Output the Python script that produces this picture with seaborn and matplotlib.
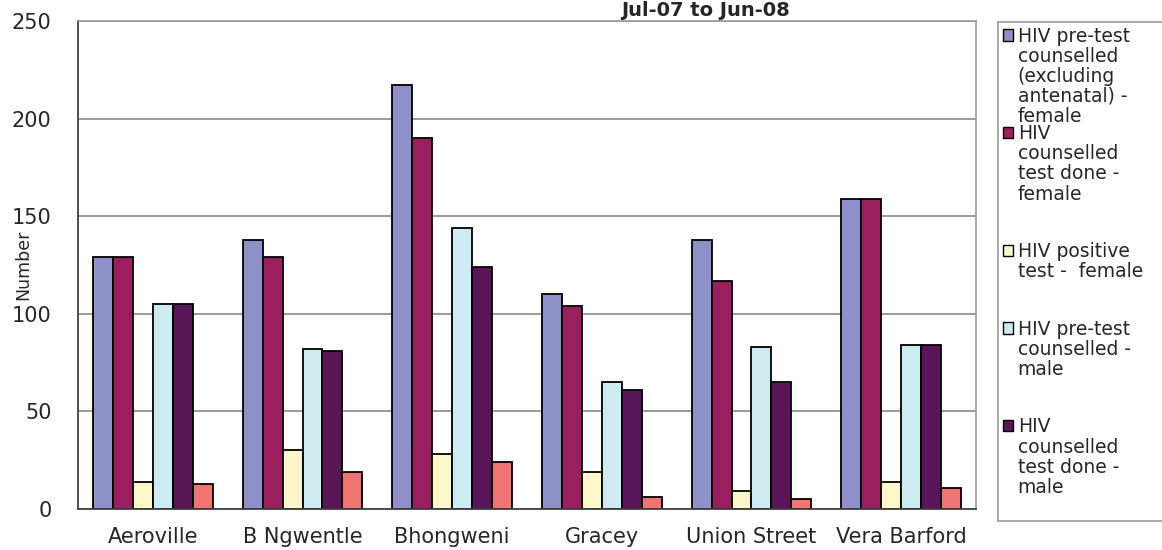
import pandas as pd
import seaborn as sns
import matplotlib
matplotlib.use("Agg")
from matplotlib import pyplot as plt
from matplotlib.patches import Patch, Rectangle
from matplotlib.legend_handler import HandlerPatch

# 数据
clinics = ["Aeroville", "B Ngwentle", "Bhongweni", "Gracey", "Union Street", "Vera Barford"]
series = [
    "HIV pre-test counselled (excluding antenatal) - female",
    "HIV counselled test done - female",
    "HIV positive test - female",
    "HIV pre-test counselled - male",
    "HIV counselled test done - male",
    "HIV positive test - male",
]
pretest_female = [129, 138, 217, 110, 138, 159]
tested_female = [129, 129, 190, 104, 117, 159]
positive_female = [14, 30, 28, 19, 9, 14]
pretest_male = [105, 82, 144, 65, 83, 84]
tested_male = [105, 81, 124, 61, 65, 84]
positive_male = [13, 19, 24, 6, 5, 11]

# 图例文字(原图只显示前五项)
legend_labels = [
    "HIV pre-test\ncounselled\n(excluding\nantenatal) -\nfemale",
    "HIV\ncounselled\ntest done -\nfemale\n\n",
    "HIV positive\ntest -  female\n\n",
    "HIV pre-test\ncounselled -\nmale\n\n",
    "HIV\ncounselled\ntest done -\nmale\n",
]
colors = ["#8f8fca", "#9b1f5f", "#fbf7c8", "#cdebf0", "#5a1559", "#f07472"]

values = [pretest_female, tested_female, positive_female, pretest_male, tested_male, positive_male]
rows = []
for s, vals in zip(series, values):
    for c, v in zip(clinics, vals):
        rows.append({"clinic": c, "series": s, "value": v})
df = pd.DataFrame(rows)

LEG_FS = 13.5
LEG_LS = 1.07


# 图例色块放在第一行文字旁边
class TopHandler(HandlerPatch):
    def __init__(self, shift):
        super().__init__()
        self.shift = shift

    def create_artists(self, legend, orig_handle, xdescent, ydescent,
                       width, height, fontsize, trans):
        p = Rectangle(xy=(-xdescent, -ydescent + self.shift), width=width, height=height)
        self.update_prop(p, orig_handle, legend)
        p.set_transform(trans)
        return [p]


sns.set_style("white")
plt.rcParams['font.family'] = ['DejaVu Sans']

fig = plt.figure(figsize=(11.62, 5.5), dpi=100)
ax = fig.add_axes([78 / 1162, 41 / 550, 898 / 1162, 488 / 550])
ax.patch.set_alpha(0)

sns.barplot(data=df, x="clinic", y="value", hue="series", order=clinics,
            hue_order=series, palette=colors, saturation=1, width=0.8,
            edgecolor="black", linewidth=1.3, legend=False, ax=ax)

ax.set_ylim(0, 250)
ax.set_xlim(-0.5, 5.5)
ax.set_yticks(range(0, 251, 50))
ax.yaxis.grid(True, color="#8a8a8a", linewidth=1.2)
ax.set_axisbelow(True)

# 类别刻度在组之间
ax.set_xticks([i - 0.5 for i in range(7)])
ax.set_xticklabels([])
ax.set_xticks(range(6), minor=True)
ax.set_xticklabels(clinics, minor=True, fontsize=15)
ax.tick_params(axis="x", which="major", length=6, color="#404040", width=1.2, direction="out")
ax.tick_params(axis="x", which="minor", length=0, pad=13)
ax.tick_params(axis="y", length=8, color="#404040", width=1.2, labelsize=15, pad=11)
ax.set_xlabel("")
ax.set_ylabel("Number", fontsize=12.5)
ax.yaxis.set_label_coords(-0.051, 0.5)

for side in ["left", "bottom"]:
    ax.spines[side].set_color("#404040")
    ax.spines[side].set_linewidth(1.3)
for side in ["top", "right"]:
    ax.spines[side].set_color("#999999")
    ax.spines[side].set_linewidth(1.2)

fig.text(0.607, 1 - 10 / 550, "Jul-07 to Jun-08", ha="center", va="center",
         fontsize=14, fontweight="bold")

handles = [Patch(facecolor=colors[i], edgecolor="black", linewidth=1.0) for i in range(5)]
hmap = {}
for h, lab in zip(handles, legend_labels):
    n = lab.count("\n") + 1
    hmap[h] = TopHandler((n - 1) / 2 * LEG_LS * LEG_FS + 1.5)

leg = fig.legend(handles, legend_labels, handler_map=hmap, loc="upper left",
                 bbox_to_anchor=(998 / 1162, 0.0, 166 / 1162, 1 - 22 / 550),
                 mode="expand", borderaxespad=0, fontsize=LEG_FS,
                 handlelength=0.55, handleheight=0.55, handletextpad=0.25,
                 labelspacing=-0.08, borderpad=0.25, frameon=True, fancybox=False,
                 edgecolor="#999999", framealpha=1)
leg.get_frame().set_linewidth(1.2)
for t in leg.get_texts():
    t.set_linespacing(LEG_LS)

fig.savefig("out.png", dpi=100)
